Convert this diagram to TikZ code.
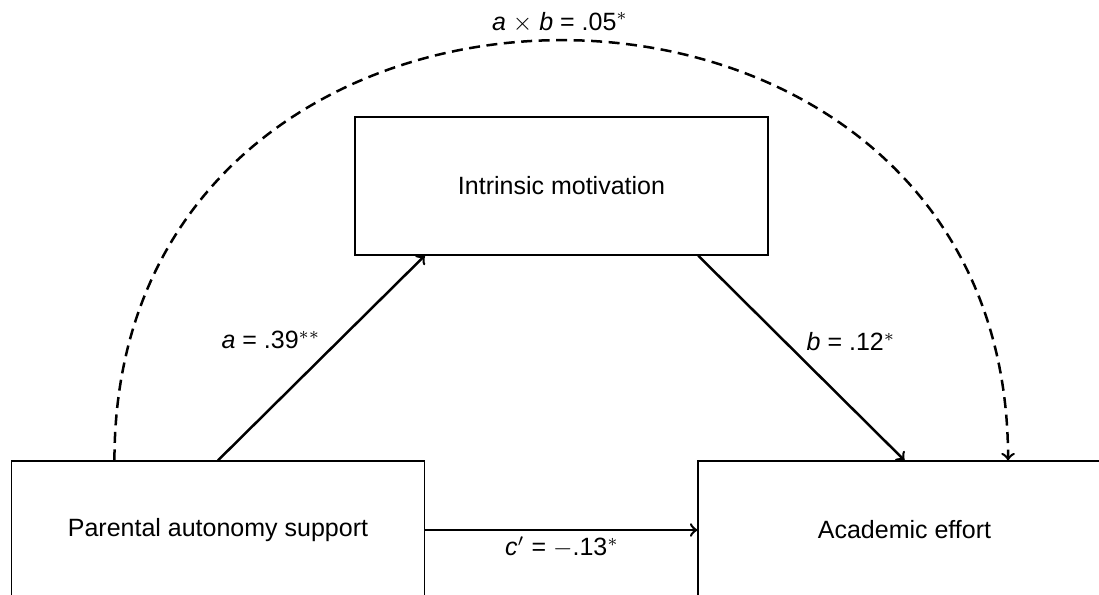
\documentclass[tikz,border=0pt]{standalone}
\usepackage{fontspec}
\setmainfont{Liberation Sans}
\usetikzlibrary{calc}

\tikzset{
    varbox/.style={draw, line width=0.5pt, minimum width=165.2pt, minimum height=55.2pt},
    effect/.style={->, line width=1pt},
    indirect/.style={->, line width=1pt, dash pattern=on 4.4pt off 2.6pt}
}

\begin{document}
\begin{tikzpicture}[x=0.4pt, y=-0.4pt]
    \useasboundingbox (0,0) rectangle (1099,594);

    % Draw the three variable boxes
    \node[varbox] (pas) at (218,530) {Parental autonomy support};
    \node[varbox] (im) at (561.5,186) {Intrinsic motivation};
    \node[varbox] (ae) at (904.5,530) {Academic effort};

    % Draw the direct paths
    \draw[effect] (pas.north) -- ($(im.south west)!0.17!(im.south east)$);
    \draw[effect] ($(im.south west)!0.83!(im.south east)$) -- (ae.north);
    \draw[effect] (pas.east) -- (ae.west);

    % Draw the indirect path over the top
    \coordinate (indstart) at ($(pas.north west)!0.25!(pas.north east)$);
    \coordinate (indend) at ($(ae.north west)!0.75!(ae.north east)$);
    \draw[indirect] (indstart) .. controls ($(indstart)+(0,-560)$) and ($(indend)+(0,-560)$) .. (indend);

    % Path coefficients
    \node (alab) at (271,340) {\textit{a} = .39$^{**}$};
    \node (blab) at (851,342) {\textit{b} = .12$^{*}$};
    \node (clab) at (562,547) {\textit{c}$'$ = $-$.13$^{*}$};
    \node (ablab) at (560,22) {\textit{a} $\times$ \textit{b} = .05$^{*}$};

\end{tikzpicture}
\end{document}
